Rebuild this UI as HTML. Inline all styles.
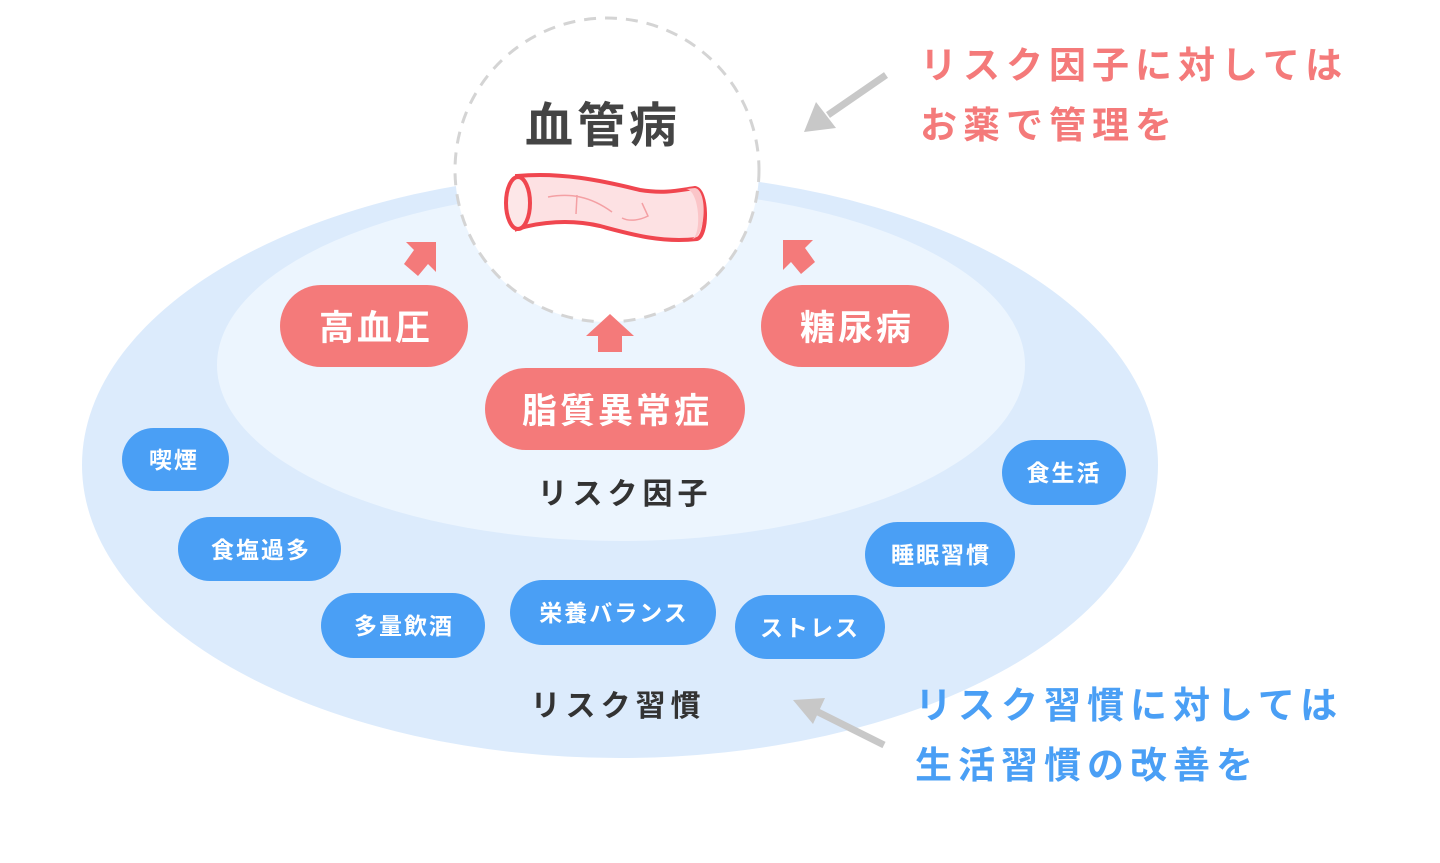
<!DOCTYPE html>
<html><head><meta charset="utf-8"><style>
body{margin:0;background:#fff;}
svg{display:block}
text{font-family:"Liberation Sans","Noto Sans CJK JP",sans-serif;font-weight:bold}
</style></head><body>
<svg width="1440" height="863" viewBox="0 0 1440 863">
<ellipse cx="620" cy="465" rx="538" ry="293" fill="#dcebfc"/>
<ellipse cx="621" cy="365" rx="404" ry="176" fill="#ecf5fe"/>
<circle cx="607" cy="170" r="152" fill="#fff" stroke="#d4d4d4" stroke-width="3" stroke-dasharray="12 9"/>
<text x="603" y="142" font-size="48" fill="#444" text-anchor="middle" letter-spacing="4">血管病</text>
<!-- vessel -->
<path d="M517 176 C560 172 600 180 640 190 C665 194 680 190 695 188 C708 190 708 236 697 239 C660 243 630 234 600 226 C570 219 540 222 517 229 Z" fill="#fde1e3" stroke="#f0464f" stroke-width="4"/>
<path d="M686 189 C700 190 702 236 692 239 C706 238 708 190 695 188Z" fill="#fbc5c8"/>
<ellipse cx="518" cy="203" rx="12" ry="26" fill="#fde7e8" stroke="#f0464f" stroke-width="4"/>
<path d="M548 197 C570 193 590 196 612 212 M577 195 L576 214 M642 203 L648 216 C640 220 630 222 622 218" stroke="#f4a0a4" stroke-width="1.5" fill="none"/>
<!-- pink arrows -->
<g fill="#f47a7a">
<path d="M598 352 h24 v-16 h12 l-24 -22 l-24 22 h12z"/>
<path d="M404 264 l14 12 l10 -12 l8 8 l0 -30 l-30 0 l8 8z"/>
<path d="M815 262 l-14 12 l-10 -12 l-8 8 l0 -30 l30 0 l-8 8z"/>
</g>
<!-- gray arrows -->
<g stroke="#c8c8c8" stroke-width="7" fill="#c8c8c8">
<line x1="886" y1="75" x2="828" y2="115"/>
<path d="M804 132 l12 -30 l20 26z" stroke="none"/>
<line x1="884" y1="745" x2="818" y2="712"/>
<path d="M793 700 l32 -2 l-12 26z" stroke="none"/>
</g>
<!-- red pills -->
<g fill="#f47a7a">
<rect x="280" y="285" width="188" height="82" rx="41"/>
<rect x="761" y="285" width="188" height="82" rx="41"/>
<rect x="485" y="368" width="260" height="82" rx="41"/>
</g>
<g fill="#fff" font-size="35" text-anchor="middle" letter-spacing="3">
<text x="376" y="340">高血圧</text>
<text x="857" y="340">糖尿病</text>
<text x="617" y="423">脂質異常症</text>
</g>
<!-- blue pills -->
<g fill="#4a9ff5">
<rect x="122" y="428" width="107" height="63" rx="31.5"/>
<rect x="178" y="517" width="163" height="64" rx="32"/>
<rect x="321" y="593" width="164" height="65" rx="32.5"/>
<rect x="510" y="580" width="206" height="65" rx="32.5"/>
<rect x="735" y="595" width="150" height="64" rx="32"/>
<rect x="865" y="522" width="150" height="65" rx="32.5"/>
<rect x="1002" y="440" width="124" height="65" rx="32.5"/>
</g>
<g fill="#fff" font-size="23" text-anchor="middle" letter-spacing="2">
<text x="174" y="468">喫煙</text>
<text x="261" y="558">食塩過多</text>
<text x="404" y="634">多量飲酒</text>
<text x="614" y="621">栄養バランス</text>
<text x="810" y="636">ストレス</text>
<text x="941" y="563">睡眠習慣</text>
<text x="1064" y="481">食生活</text>
</g>
<text x="625" y="504" font-size="30" fill="#333" text-anchor="middle" letter-spacing="5">リスク因子</text>
<text x="618" y="716" font-size="30" fill="#333" text-anchor="middle" letter-spacing="5">リスク習慣</text>
<g font-size="37" fill="#f47a7a" letter-spacing="6">
<text x="920" y="78">リスク因子に対しては</text>
<text x="920" y="138">お薬で管理を</text>
</g>
<g font-size="37" fill="#4a9ff5" letter-spacing="6">
<text x="915" y="718">リスク習慣に対しては</text>
<text x="915" y="778">生活習慣の改善を</text>
</g>
</svg>
</body></html>
